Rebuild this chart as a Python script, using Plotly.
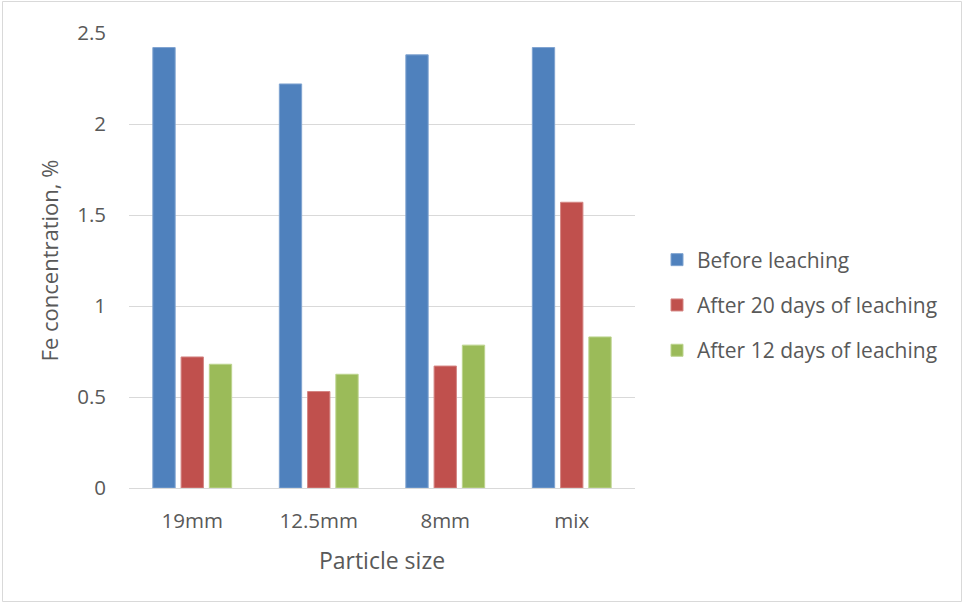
import plotly.graph_objects as go

# Fe concentration by particle size
categories = ["19mm", "12.5mm", "8mm", "mix"]
before_leaching = [2.42, 2.22, 2.38, 2.42]
after_20_days = [0.72, 0.53, 0.67, 1.57]
after_12_days = [0.68, 0.625, 0.785, 0.83]

series = [
    ("Before leaching", before_leaching, "#4F81BD", "#7FA3D0"),
    ("After 20 days of leaching", after_20_days, "#C0504D", "#D48583"),
    ("After 12 days of leaching", after_12_days, "#9BBB59", "#BCD48E"),
]

FONT = "'Open Sans', Lato, sans-serif"
TEXT = "#595959"

fig = go.Figure()
for i, (name, vals, color, edge) in enumerate(series):
    fig.add_trace(go.Bar(
        x=categories, y=vals, name=name,
        marker=dict(color=color, line=dict(color=edge, width=1)),
        legendgroup=f"g{i}",
    ))

W, H = 963, 604
ml, mr, mt, mb = 129, 328, 33, 116
pw, ph = W - ml - mr, H - mt - mb

fig.update_layout(
    width=W, height=H,
    margin=dict(l=ml, r=mr, t=mt, b=mb, autoexpand=False),
    paper_bgcolor="white", plot_bgcolor="white",
    barmode="group", bargap=0.33, bargroupgap=0.21,
    font=dict(family=FONT, color=TEXT, size=20),
    showlegend=True,
    legend=dict(
        x=(657 - ml) / pw, xanchor="left",
        y=(H - mb - 305) / ph, yanchor="middle",
        font=dict(size=21, color=TEXT),
        traceorder="grouped", tracegroupgap=15,
        itemwidth=30,
    ),
    xaxis=dict(
        showgrid=False, showline=True, linecolor="#D9D9D9", linewidth=1,
        ticks="", ticklabelstandoff=14, tickfont=dict(size=20.5, color=TEXT),
        title=dict(text="Particle size", font=dict(size=23, color=TEXT), standoff=20),
    ),
    yaxis=dict(
        range=[0, 2.5], tickvals=[0, 0.5, 1, 1.5, 2, 2.5],
        ticktext=["0", "0.5", "1", "1.5", "2", "2.5"],
        showgrid=True, gridcolor="#D9D9D9", gridwidth=1,
        zeroline=False, showline=False, ticks="", ticklabelstandoff=22,
        tickfont=dict(size=20.5, color=TEXT),
        title=dict(text="Fe concentration, %", font=dict(size=22, color=TEXT), standoff=12),
    ),
    shapes=[dict(
        type="rect", xref="paper", yref="paper",
        x0=(2.5 - ml) / pw, x1=(W - 1.5 - ml) / pw,
        y0=-(mb - 2.5) / ph, y1=1 + (mt - 1.5) / ph,
        line=dict(color="#D9D9D9", width=1), layer="below",
    )],
)

fig.write_html("out.html")
